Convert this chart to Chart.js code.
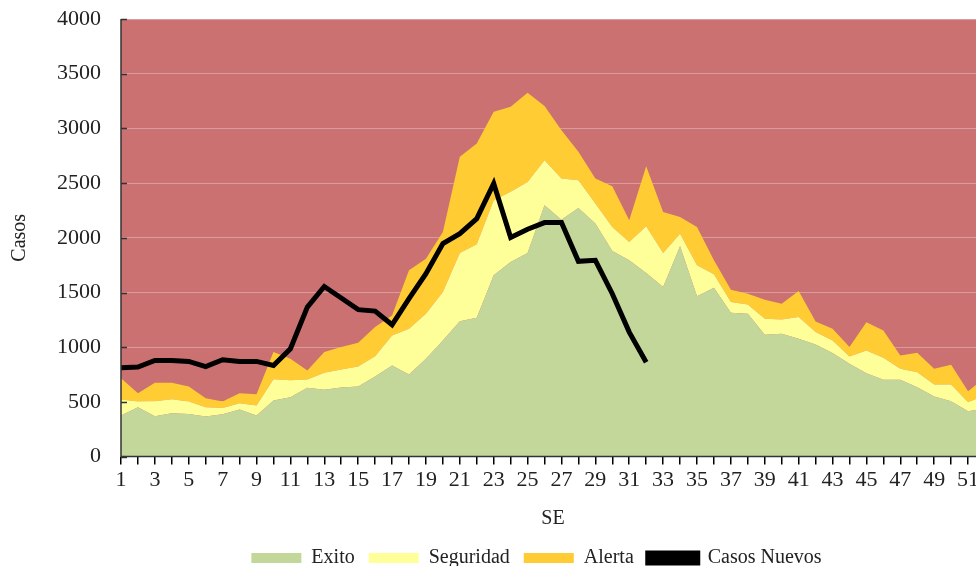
<!DOCTYPE html>
<html>
<head>
<meta charset="utf-8">
<script src="https://cdn.jsdelivr.net/npm/chart.js@4.4.1/dist/chart.umd.min.js"></script>
<style>
  html, body { margin: 0; padding: 0; background: #fff; overflow: hidden; }
  #wrap { width: 1064px; height: 566px; }
</style>
</head>
<body>
<div id="wrap"><canvas id="casosChart" width="1064" height="566"></canvas></div>
<script>
// semanas epidemiologicas
const semanas = ['1','2','3','4','5','6','7','8','9','10','11','12','13','14','15','16','17','18','19','20',
  '21','22','23','24','25','26','27','28','29','30','31','32','33','34','35','36','37','38','39','40',
  '41','42','43','44','45','46','47','48','49','50','51','52'];

// zonas del canal endemico (valores apilados)
const exito = [375, 451, 369, 397, 390, 366, 387, 430, 375, 513, 543, 629, 610, 632, 641, 732, 833, 751, 894, 1062,
  1238, 1269, 1657, 1779, 1861, 2297, 2166, 2273, 2130, 1879, 1794, 1678, 1550, 1922, 1465, 1544, 1315, 1306, 1114, 1123,
  1077, 1025, 946, 848, 763, 702, 702, 635, 549, 506, 415, 440];
const seguridad = [147, 52, 137, 128, 113, 85, 58, 58, 92, 195, 156, 76, 156, 164, 183, 186, 275, 418, 412, 442,
  623, 672, 686, 641, 650, 413, 376, 254, 183, 220, 168, 427, 311, 116, 283, 122, 98, 85, 146, 131,
  198, 113, 116, 67, 207, 201, 101, 137, 110, 153, 82, 120];
const alerta = [195, 77, 168, 149, 138, 83, 58, 92, 103, 247, 195, 82, 189, 205, 216, 266, 182, 534, 503, 549,
  879, 921, 809, 778, 815, 494, 442, 259, 229, 372, 198, 549, 375, 152, 351, 128, 113, 98, 174, 144,
  238, 98, 107, 86, 259, 250, 121, 177, 144, 180, 101, 160];

// casos nuevos (hasta la semana 32)
const casosNuevos = [812, 818, 879, 879, 870, 822, 885, 870, 870, 833, 986, 1367, 1555, 1450, 1343, 1330, 1205, 1443, 1672, 1947,
  2038, 2175, 2496, 2002, 2078, 2139, 2139, 1785, 1794, 1489, 1138, 863];

const yTicks = [0, 500, 1000, 1500, 2000, 2500, 3000, 3500, 4000];

const fontFam = '"Liberation Serif", "DejaVu Serif", serif';

// fondo rojo (epidemia) detras de todo, ejes encima
const fondoPlugin = {
  id: 'fondo',
  afterLayout(chart) {
    // la leyenda va centrada en todo el grafico, no solo en el area visible
    chart.legend.left += 44;
    chart.legend.right += 44;
  },
  beforeDraw(chart) {
    const a = chart.chartArea;
    const c = chart.ctx;
    c.save();
    c.fillStyle = '#CB7171';
    c.fillRect(a.left, a.top, a.right - a.left, a.bottom - a.top);
    c.restore();
  },
  afterDatasetsDraw(chart) {
    const a = chart.chartArea;
    const c = chart.ctx;
    const y = chart.scales.y;
    c.save();
    c.strokeStyle = '#333';
    c.lineWidth = 1.5;
    c.beginPath();
    c.moveTo(a.left, a.top);
    c.lineTo(a.left, a.bottom);
    c.lineTo(a.right, a.bottom);
    // marcas interiores del eje y
    yTicks.forEach(v => {
      const py = Math.round(y.getPixelForValue(v)) + 0.5;
      c.moveTo(a.left, py);
      c.lineTo(a.left + 6, py);
    });
    c.stroke();
    c.restore();
  }
};

const ctx = document.getElementById('casosChart').getContext('2d');
const casosChart = new Chart(ctx, {
  type: 'line',
  data: {
    labels: semanas,
    datasets: [
      { label: 'Exito', data: exito, backgroundColor: '#C4D79B', borderWidth: 0, fill: 'origin', pointRadius: 0, stack: 'canal', order: 1 },
      { label: 'Seguridad', data: seguridad, backgroundColor: '#FFFF99', borderWidth: 0, fill: '-1', pointRadius: 0, stack: 'canal', order: 1 },
      { label: 'Alerta', data: alerta, backgroundColor: '#FFCC33', borderWidth: 0, fill: '-1', pointRadius: 0, stack: 'canal', order: 1 },
      { label: 'Casos Nuevos', data: casosNuevos, borderColor: '#000', backgroundColor: '#000', borderWidth: 5,
        fill: false, pointRadius: 0, stack: 'casos', order: 0, borderJoinStyle: 'miter' }
    ]
  },
  options: {
    responsive: false,
    animation: false,
    layout: { padding: { top: 19, right: 79, bottom: -12, left: 0 } },
    elements: { line: { tension: 0 } },
    scales: {
      x: {
        offset: false,
        border: { display: false },
        grid: { drawOnChartArea: false, tickColor: '#000', tickLength: 8, lineWidth: 1.5 },
        ticks: {
          autoSkip: false, maxRotation: 0, padding: 2, color: '#222',
          font: { family: fontFam, size: 22 },
          callback: function (val, index) { return index % 2 === 0 ? this.getLabelForValue(val) : ''; }
        },
        title: { display: true, text: 'SE', color: '#222', font: { family: fontFam, size: 20 }, padding: { top: 12, bottom: 3 } }
      },
      y: {
        stacked: true,
        min: 0, max: 4000,
        border: { display: false },
        afterFit: (scale) => { scale.width = 121; },
        afterBuildTicks: (scale) => { scale.ticks = yTicks.map(v => ({ value: v })); },
        grid: { color: '#D89C9C', lineWidth: 1, tickLength: 16, tickColor: 'rgba(0,0,0,0)' },
        ticks: { color: '#222', padding: 4, font: { family: fontFam, size: 22 }, callback: (v) => String(v) },
        title: { display: true, text: 'Casos', color: '#222', font: { family: fontFam, size: 20 }, padding: { top: 8, bottom: 0 } }
      }
    },
    plugins: {
      tooltip: { enabled: false },
      legend: {
        position: 'bottom',
        labels: {
          boxWidth: 50, boxHeight: 10, padding: 14, color: '#222',
          font: { family: fontFam, size: 20 },
          sort: (a, b) => a.datasetIndex - b.datasetIndex
        }
      }
    }
  },
  plugins: [fondoPlugin]
});
</script>
</body>
</html>
